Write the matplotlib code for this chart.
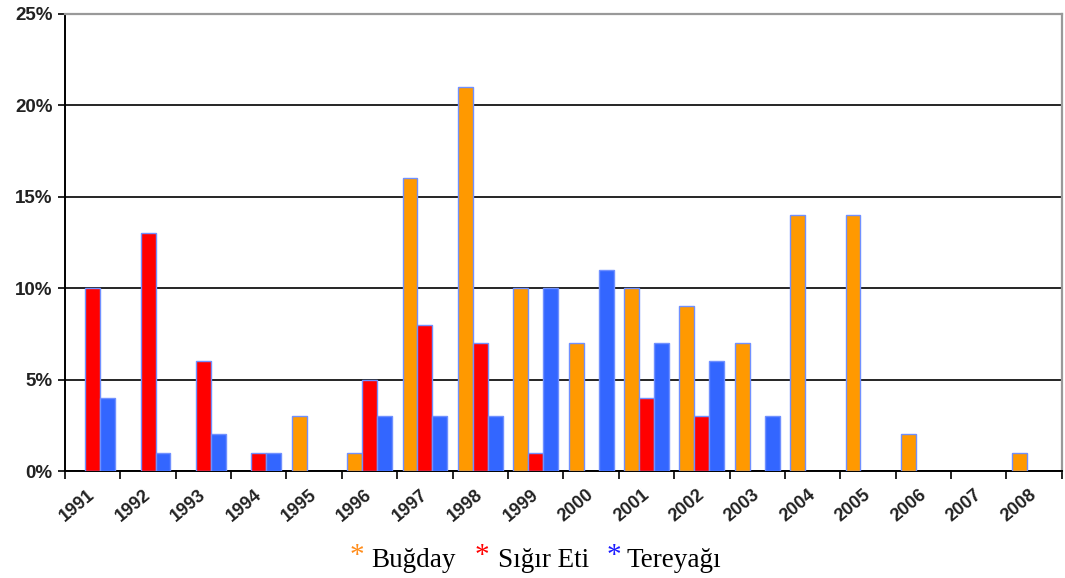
import numpy as np
import matplotlib.pyplot as plt
from matplotlib.ticker import FixedLocator, PercentFormatter
from matplotlib.transforms import ScaledTranslation

years = [str(y) for y in range(1991, 2009)]
bugday = [0, 0, 0, 0, 3, 1, 16, 21, 10, 7, 10, 9, 7, 14, 14, 2, 0, 1]
sigir_eti = [10, 13, 6, 1, 0, 5, 8, 7, 1, 0, 4, 3, 0, 0, 0, 0, 0, 0]
tereyagi = [4, 1, 2, 1, 0, 3, 3, 3, 10, 11, 7, 6, 3, 0, 0, 0, 0, 0]

series = [
    ("Buğday", bugday, "#ff9900"),
    ("Sığır Eti", sigir_eti, "#ff0000"),
    ("Tereyağı", tereyagi, "#3366ff"),
]

fig = plt.figure(figsize=(10.65, 5.78), dpi=100)
ax = fig.add_axes([0.061, 0.185, 0.936, 0.791])

x = np.arange(len(years))
w = 0.27
for k, (name, vals, col) in enumerate(series):
    vals = np.array(vals, dtype=float)
    keep = vals > 0
    ax.bar(x[keep] + (k - 1) * w, vals[keep], width=w, color=col,
           edgecolor="#7090ff", linewidth=1.0, zorder=3)

ax.set_xlim(-0.5, len(years) - 0.5)
ax.set_ylim(0, 25)
ax.set_yticks(range(0, 26, 5))
ax.yaxis.set_major_formatter(PercentFormatter(decimals=0))
ax.yaxis.grid(True, color="black", linewidth=1.2, zorder=1)
ax.tick_params(axis="y", length=5, width=1.2, labelsize=13.5, pad=4)
for lab in ax.get_yticklabels():
    lab.set_fontweight("bold")
    lab.set_fontfamily("Liberation Sans")
    lab.set_color("#222222")

# category labels at centres, tick marks at the boundaries
ax.set_xticks(x)
ax.set_xticklabels(years, rotation=40, ha="right", va="top",
                   rotation_mode="anchor", fontsize=13, fontweight="bold",
                   fontfamily="Liberation Sans", color="#222222")
ax.tick_params(axis="x", which="major", length=0, pad=11)
shift = ScaledTranslation(-5 / 100, 0, fig.dpi_scale_trans)
for lab in ax.get_xticklabels():
    lab.set_transform(lab.get_transform() + shift)
ax.xaxis.set_minor_locator(FixedLocator(np.arange(-0.5, len(years), 1.0)))
ax.tick_params(axis="x", which="minor", length=6, width=1.2)

for side in ("left", "bottom"):
    ax.spines[side].set_color("black")
    ax.spines[side].set_linewidth(1.4)
for side in ("top", "right"):
    ax.spines[side].set_color("#999999")
    ax.spines[side].set_linewidth(1.6)

# legend line below the axis
base_y = 0.019
pos = [(0.328, 0.349, "Buğday", "#ff8c1a"),
       (0.446, 0.468, "Sığır Eti", "#ff0000"),
       (0.570, 0.588, "Tereyağı", "#1a1aff")]
for xs, xt, label, col in pos:
    fig.text(xs, base_y + 0.007, "*", color=col, fontsize=21,
             fontfamily="Liberation Serif", ha="left", va="baseline")
    fig.text(xt, base_y, label, color="black", fontsize=19.5,
             fontfamily="Liberation Serif", ha="left", va="baseline")

fig.savefig("out.png", dpi=100)
